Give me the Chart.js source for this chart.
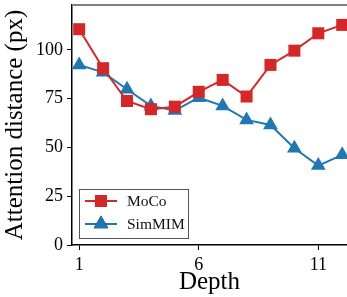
<!DOCTYPE html>
<html><head><meta charset="utf-8">
<script src="https://cdn.jsdelivr.net/npm/chart.js@4"></script>
<style>html,body{margin:0;padding:0;background:#fff;}#c{display:block;}</style>
</head><body>
<canvas id="c" width="347" height="297"></canvas>
<script>
const depths = [1,2,3,4,5,6,7,8,9,10,11,12];
const mocoValues = [110.6,90.6,73.8,69.6,70.9,78.5,84.6,76.1,92.3,99.6,108.5,112.8];
const simmimValues = [92.3,88.5,79.8,71.3,68.9,75.5,71.3,64.1,61.5,49.6,40.7,46.2];
const xTickLabels = [1,6,11];
const yTickLabels = [0,25,50,75,100];
const seriesNames = ['MoCo','SimMIM'];

const RED = '#d62728', BLUE = '#1f77b4';
const SERIF = '"Liberation Serif", "DejaVu Serif", serif';

const toPts = vals => depths.map((d,i)=>({x:d,y:vals[i]}));

const extras = {
  id:'extras',
  afterDraw(chart){
    const ctx = chart.ctx, a = chart.chartArea;
    ctx.save();
    ctx.strokeStyle = '#808080'; ctx.lineWidth = 2;
    ctx.beginPath(); ctx.moveTo(a.left, a.top); ctx.lineTo(a.right, a.top); ctx.stroke();
    const bx = 79.5, by = 189.5, bw = 109, bh = 49;
    ctx.fillStyle = 'rgba(255,255,255,0.85)';
    ctx.fillRect(bx, by, bw, bh);
    ctx.strokeStyle = '#555'; ctx.lineWidth = 1;
    ctx.strokeRect(bx, by, bw, bh);
    const rows = [201, 224];
    chart.data.datasets.forEach((ds, i) => {
      const y = rows[i];
      ctx.strokeStyle = ds.borderColor; ctx.lineWidth = 2;
      ctx.beginPath(); ctx.moveTo(85, y); ctx.lineTo(117, y); ctx.stroke();
      Chart.helpers.drawPoint(ctx, {pointStyle: ds.pointStyle, rotation:0, radius: ds.pointRadius, borderWidth:0}, 101, y);
      ctx.fillStyle = ds.backgroundColor;
      ctx.fill();
      ctx.fillStyle = '#111';
      ctx.font = '15.5px ' + SERIF;
      ctx.textBaseline = 'middle'; ctx.textAlign = 'left';
      ctx.fillText(ds.label, 127, y + 1);
    });
    ctx.restore();
  }
};

new Chart(document.getElementById('c'), {
  type:'line',
  data:{
    datasets:[
      {label:seriesNames[0], data:toPts(mocoValues), borderColor:RED, backgroundColor:RED,
       pointStyle:'rect', pointRadius:8.5, pointHoverRadius:8.5, borderWidth:2, pointBorderWidth:0, tension:0},
      {label:seriesNames[1], data:toPts(simmimValues), borderColor:BLUE, backgroundColor:BLUE,
       pointStyle:'triangle', pointRadius:8.5, pointHoverRadius:8.5, borderWidth:2, pointBorderWidth:0, tension:0}
    ]
  },
  options:{
    responsive:false, animation:false, devicePixelRatio:1,
    layout:{autoPadding:false, padding:{top:5,right:0,left:0,bottom:0}},
    plugins:{legend:{display:false}, tooltip:{enabled:false}},
    scales:{
      x:{type:'linear', min:0.7, max:12.2,
        afterBuildTicks(s){ s.ticks = xTickLabels.map(v=>({value:v})); },
        afterFit(s){ s.height = 52; s.paddingLeft = 0; s.paddingRight = 0; },
        grid:{drawOnChartArea:false, drawTicks:true, tickLength:5, color:'#000', tickWidth:1},
        border:{display:true, color:'#000', width:1.5},
        ticks:{color:'#000', font:{family:SERIF, size:18}, padding:4, maxRotation:0},
        title:{display:true, text:'Depth', color:'#000', font:{family:SERIF, size:25}, padding:{top:3,bottom:0}}
      },
      y:{type:'linear', min:0, max:123,
        afterBuildTicks(s){ s.ticks = yTickLabels.map(v=>({value:v})); },
        afterFit(s){ s.width = 72; s.paddingTop = 0; s.paddingBottom = 0; },
        grid:{drawOnChartArea:false, drawTicks:true, tickLength:5, color:'#000', tickWidth:1},
        border:{display:true, color:'#000', width:1.5},
        ticks:{color:'#000', font:{family:SERIF, size:18}, padding:4},
        title:{display:true, text:'Attention distance (px)', color:'#000', font:{family:SERIF, size:25}, padding:{top:0,bottom:1}}
      }
    }
  },
  plugins:[extras]
});
</script>
</body></html>
